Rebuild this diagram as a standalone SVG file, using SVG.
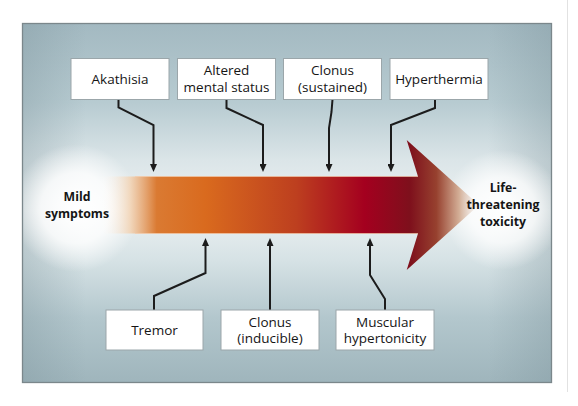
<svg xmlns="http://www.w3.org/2000/svg" width="578" height="406" viewBox="0 0 578 406">
<style>
.box{fill:#ffffff;stroke:#9ba6aa;stroke-width:1}
.lbl{font-family:"Open Sans","Noto Sans",sans-serif;font-size:13.5px;fill:#151515;text-anchor:middle}
.big{font-family:"Open Sans","Noto Sans",sans-serif;font-size:12.3px;font-weight:bold;fill:#151515;text-anchor:middle}
.con{fill:none;stroke:#1c1c1c;stroke-width:2;stroke-linejoin:miter;marker-end:url(#ah)}
</style>
<defs>
<marker id="ah" markerUnits="userSpaceOnUse" markerWidth="8" markerHeight="7" refX="2" refY="3.5" orient="auto">
<path d="M0,0 L8,3.5 L0,7 Z" fill="#1c1c1c"/>
</marker>
<linearGradient id="bg" x1="0" y1="0" x2="0" y2="1">
<stop offset="0" stop-color="#a3b9c1"/>
<stop offset="0.22" stop-color="#b7cbd1"/>
<stop offset="0.38" stop-color="#dbe5e8"/>
<stop offset="0.52" stop-color="#edf2f3"/>
<stop offset="0.66" stop-color="#d6e2e5"/>
<stop offset="0.82" stop-color="#b3c7cd"/>
<stop offset="1" stop-color="#9fb5bc"/>
</linearGradient>
<linearGradient id="side" x1="0" y1="0" x2="1" y2="0">
<stop offset="0" stop-color="#7d949c" stop-opacity="0.35"/>
<stop offset="0.12" stop-color="#7d949c" stop-opacity="0"/>
<stop offset="0.88" stop-color="#7d949c" stop-opacity="0"/>
<stop offset="1" stop-color="#7d949c" stop-opacity="0.35"/>
</linearGradient>
<radialGradient id="glowL" cx="76" cy="208" r="64" gradientUnits="userSpaceOnUse">
<stop offset="0" stop-color="#ffffff" stop-opacity="1"/>
<stop offset="0.55" stop-color="#ffffff" stop-opacity="0.8"/>
<stop offset="1" stop-color="#ffffff" stop-opacity="0"/>
</radialGradient>
<radialGradient id="glowR" cx="503" cy="210" r="60" gradientUnits="userSpaceOnUse">
<stop offset="0" stop-color="#ffffff" stop-opacity="1"/>
<stop offset="0.55" stop-color="#ffffff" stop-opacity="0.75"/>
<stop offset="1" stop-color="#ffffff" stop-opacity="0"/>
</radialGradient>
<linearGradient id="arr" gradientUnits="userSpaceOnUse" x1="100" y1="0" x2="478" y2="0">
<stop offset="0" stop-color="#ffffff" stop-opacity="0"/>
<stop offset="0.08" stop-color="#f2d2b2" stop-opacity="0.85"/>
<stop offset="0.15" stop-color="#da7a32"/>
<stop offset="0.28" stop-color="#d96a1e"/>
<stop offset="0.52" stop-color="#bd3f1f"/>
<stop offset="0.70" stop-color="#a4001f"/>
<stop offset="0.82" stop-color="#7e101c"/>
<stop offset="0.89" stop-color="#97412f"/>
<stop offset="0.95" stop-color="#d3ae96"/>
<stop offset="1" stop-color="#eee6e0" stop-opacity="0.3"/>
</linearGradient>
</defs>

<line x1="567.5" y1="0" x2="567.5" y2="392" stroke="#e2e2e2" stroke-width="1"/>

<g id="panel">
<rect x="22.5" y="23.5" width="529" height="359" fill="url(#bg)"/>
<rect x="22.5" y="23.5" width="529" height="359" fill="url(#side)"/>
<ellipse cx="76" cy="208" rx="64" ry="64" fill="url(#glowL)"/>
<ellipse cx="503" cy="210" rx="60" ry="60" fill="url(#glowR)"/>
<rect x="22.5" y="23.5" width="529" height="359" fill="none" stroke="#7b878b" stroke-width="1.3"/>
</g>

<g id="main-arrow">
<path d="M100,176.5 H418 L406.7,140 L479,205 L406.7,270 L418,233.5 H100 Z" fill="url(#arr)"/>
<line x1="135" y1="176.5" x2="418" y2="176.5" stroke="#f6c9a6" stroke-opacity="0.6" stroke-width="1"/>
<line x1="135" y1="233.5" x2="418" y2="233.5" stroke="#f6c9a6" stroke-opacity="0.6" stroke-width="1"/>
</g>

<g id="mild">
<text class="big" x="77" y="200.7">Mild</text>
<text class="big" x="77" y="217.7">symptoms</text>
</g>
<g id="life">
<text class="big" x="503" y="192.3">Life-</text>
<text class="big" x="503" y="209.3">threatening</text>
<text class="big" x="503" y="226.3">toxicity</text>
</g>

<g id="connectors">
<polyline class="con" points="118.5,99.5 118.5,107.5 153.5,125 153.5,166"/>
<polyline class="con" points="226.5,99.5 226.5,108 263,125 263,166"/>
<polyline class="con" points="332.5,99.5 331.5,112 329,128 329,166"/>
<polyline class="con" points="435,99.5 435,108 391,125 391,166"/>
<polyline class="con" points="154,310 154,296 205.5,273 205.5,244"/>
<polyline class="con" points="270,310 270,244"/>
<polyline class="con" points="385,310 385,299 370,275 370,244"/>
</g>

<g id="akathisia">
<rect class="box" x="71" y="58.5" width="98" height="41"/>
<text class="lbl" x="120" y="83.5">Akathisia</text>
</g>
<g id="altered">
<rect class="box" x="177.5" y="58.5" width="98" height="41"/>
<text class="lbl" x="226.5" y="75">Altered</text>
<text class="lbl" x="226.5" y="91.5">mental status</text>
</g>
<g id="clonus-sustained">
<rect class="box" x="283.5" y="58.5" width="98" height="41"/>
<text class="lbl" x="332.5" y="75">Clonus</text>
<text class="lbl" x="332.5" y="91.5">(sustained)</text>
</g>
<g id="hyperthermia">
<rect class="box" x="390" y="58.5" width="98" height="41"/>
<text class="lbl" x="439" y="83.5">Hyperthermia</text>
</g>
<g id="tremor">
<rect class="box" x="106" y="310" width="97" height="40"/>
<text class="lbl" x="154.5" y="335">Tremor</text>
</g>
<g id="clonus-inducible">
<rect class="box" x="221" y="310" width="98" height="40"/>
<text class="lbl" x="270" y="326.5">Clonus</text>
<text class="lbl" x="270" y="343">(inducible)</text>
</g>
<g id="muscular">
<rect class="box" x="336" y="310" width="98" height="40"/>
<text class="lbl" x="385" y="326.5">Muscular</text>
<text class="lbl" x="385" y="343">hypertonicity</text>
</g>
</svg>
